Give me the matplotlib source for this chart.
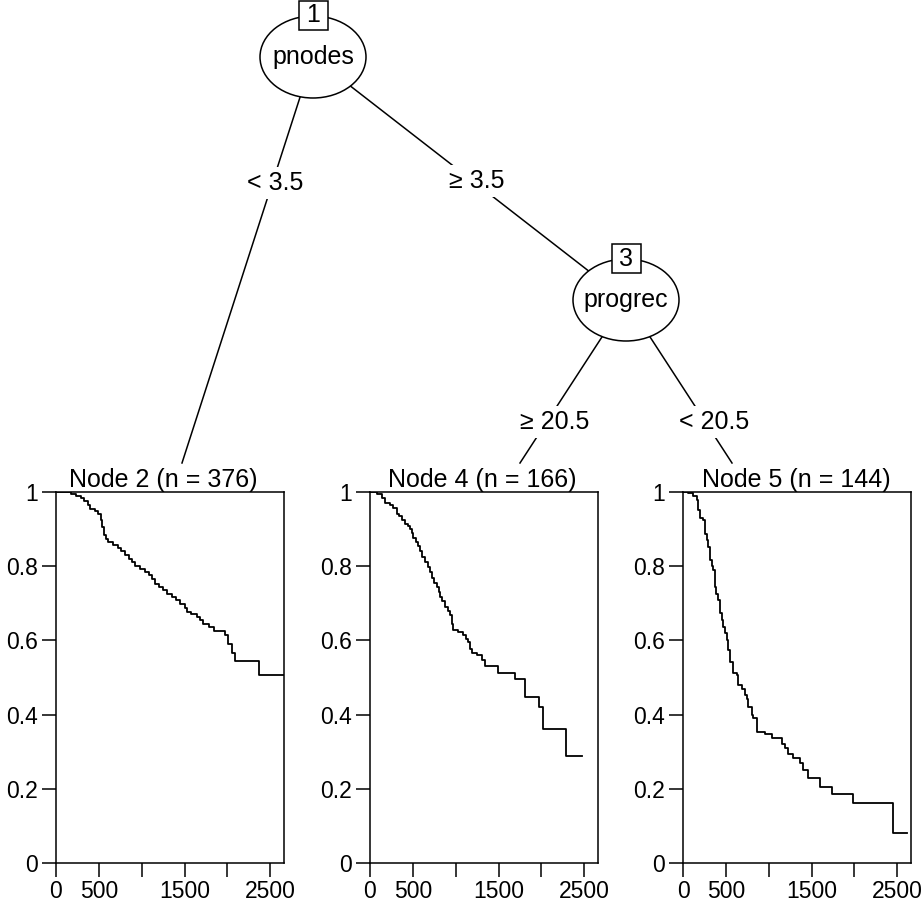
import matplotlib
matplotlib.use("Agg")
import matplotlib.pyplot as plt
from matplotlib.patches import Ellipse, Rectangle
import numpy as np

plt.rcParams['font.family'] = ['Liberation Sans', 'DejaVu Sans']

# inner nodes of the tree
inner_ids = ["1", "3"]
inner_vars = ["pnodes", "progrec"]
edge_labels = ["< 3.5", "\u2265 3.5", "\u2265 20.5", "< 20.5"]

# terminal nodes
node_titles = ["Node 2 (n = 376)", "Node 4 (n = 166)", "Node 5 (n = 144)"]

# Kaplan-Meier curves (days, survival)
node2_time = [0, 180, 230, 290, 330, 370, 400, 450, 490, 520, 540, 555, 580, 610, 660,
              720, 760, 800, 850, 890, 920, 980, 1040, 1080, 1120, 1160, 1200, 1250,
              1300, 1350, 1400, 1450, 1500, 1530, 1580, 1640, 1680, 1720, 1780, 1840,
              1970, 2010, 2050, 2090, 2370, 2659]
node2_surv = [1.0, 0.995, 0.99, 0.985, 0.975, 0.965, 0.955, 0.948, 0.94, 0.925, 0.905,
              0.885, 0.873, 0.865, 0.858, 0.848, 0.84, 0.83, 0.82, 0.81, 0.8, 0.792,
              0.785, 0.775, 0.765, 0.752, 0.745, 0.735, 0.725, 0.717, 0.708, 0.698,
              0.688, 0.677, 0.672, 0.664, 0.655, 0.643, 0.635, 0.625, 0.615, 0.59,
              0.565, 0.545, 0.507, 0.507]

node4_time = [0, 80, 135, 175, 230, 272, 311, 340, 370, 408, 440, 466, 490, 505, 535,
              563, 585, 602, 640, 680, 700, 720, 750, 778, 800, 816, 845, 875, 905,
              933, 955, 972, 1030, 1088, 1120, 1147, 1166, 1186, 1244, 1302, 1341,
              1496, 1691, 1808, 1975, 2014, 2286, 2469]
node4_surv = [1.0, 0.995, 0.985, 0.97, 0.965, 0.958, 0.942, 0.935, 0.925, 0.915, 0.908,
              0.9, 0.89, 0.875, 0.865, 0.855, 0.84, 0.825, 0.812, 0.797, 0.785, 0.767,
              0.756, 0.745, 0.73, 0.718, 0.705, 0.69, 0.68, 0.668, 0.645, 0.628, 0.622,
              0.615, 0.605, 0.596, 0.578, 0.567, 0.56, 0.547, 0.531, 0.511, 0.497,
              0.448, 0.421, 0.36, 0.288, 0.288]

node5_time = [0, 62, 120, 160, 178, 198, 237, 257, 275, 295, 315, 335, 353, 373, 390,
              412, 431, 450, 470, 490, 510, 528, 548, 580, 626, 645, 684, 723, 750,
              762, 801, 820, 859, 957, 1035, 1152, 1191, 1230, 1288, 1366, 1405, 1463,
              1598, 1734, 1986, 2453, 2609]
node5_surv = [1.0, 0.996, 0.99, 0.978, 0.951, 0.929, 0.925, 0.888, 0.87, 0.853, 0.817,
              0.8, 0.79, 0.745, 0.725, 0.709, 0.673, 0.655, 0.637, 0.62, 0.601, 0.574,
              0.543, 0.511, 0.507, 0.48, 0.47, 0.453, 0.443, 0.421, 0.399, 0.39, 0.354,
              0.349, 0.336, 0.322, 0.309, 0.295, 0.282, 0.269, 0.251, 0.228, 0.205,
              0.187, 0.161, 0.08, 0.08]

x_ticks = [0, 500, 1000, 1500, 2000, 2500]
x_ticklabels = ["0", "500", "", "1500", "", "2500"]
y_ticks = [0, 0.2, 0.4, 0.6, 0.8, 1]
y_ticklabels = ["0", "0.2", "0.4", "0.6", "0.8", "1"]
t_max = 2659

W, H = 923, 908
FS = 18
TICK_FS = 16.5
LW = 1.1

fig = plt.figure(figsize=(W / 100, H / 100), dpi=100)

# background axes in pixel coordinates for the tree part
tree = fig.add_axes([0, 0, 1, 1])
tree.set_xlim(0, W)
tree.set_ylim(H, 0)
tree.axis("off")

# edges: parent centre -> child top
edges = [((313, 57), (182, 463)), ((313, 57), (626, 300)),
         ((626, 300), (520, 463)), ((626, 300), (732, 463))]
label_pos = [(275, 183), (477, 181), (555, 422), (714, 422)]
for (p, c), lab, lp in zip(edges, edge_labels, label_pos):
    tree.plot([p[0], c[0]], [p[1], c[1]], color="black", lw=LW)
    tree.text(lp[0], lp[1], lab, ha="center", va="center", fontsize=FS,
              bbox=dict(fc="white", ec="none", pad=3))

# inner nodes
node_xy = [(313, 57), (626, 300)]
for (x, y), nid, var in zip(node_xy, inner_ids, inner_vars):
    tree.add_patch(Ellipse((x, y), 106, 82, fc="white", ec="black", lw=LW, zorder=3))
    tree.text(x, y, var, ha="center", va="center", fontsize=FS, zorder=4)
    tree.add_patch(Rectangle((x - 14.5, y - 56), 29, 29, fc="white", ec="black",
                             lw=LW, zorder=5, clip_on=False))
    tree.text(x, y - 41.5, nid, ha="center", va="center", fontsize=FS, zorder=6)

# terminal panels
panel_left = [56, 370, 683]
title_x = [163, 482, 796]
curves = [(node2_time, node2_surv), (node4_time, node4_surv), (node5_time, node5_surv)]
top, bot, pw = 492, 863, 228
for x0, tx, title, (t, s) in zip(panel_left, title_x, node_titles, curves):
    ax = fig.add_axes([x0 / W, (H - bot) / H, pw / W, (bot - top) / H])
    ax.step(t, s, where="post", color="black", lw=1.3)
    ax.set_xlim(0, t_max)
    ax.set_ylim(0, 1)
    ax.set_xticks(x_ticks)
    ax.set_xticklabels(x_ticklabels)
    ax.set_yticks(y_ticks)
    ax.set_yticklabels(y_ticklabels)
    ax.tick_params(direction="out", length=10, width=LW, labelsize=TICK_FS, pad=3)
    ax.tick_params(axis="x", pad=2)
    for sp in ax.spines.values():
        sp.set_linewidth(LW)
    tree.text(tx, 487, title, ha="center", va="baseline", fontsize=FS)

fig.savefig("out.png", dpi=100)
